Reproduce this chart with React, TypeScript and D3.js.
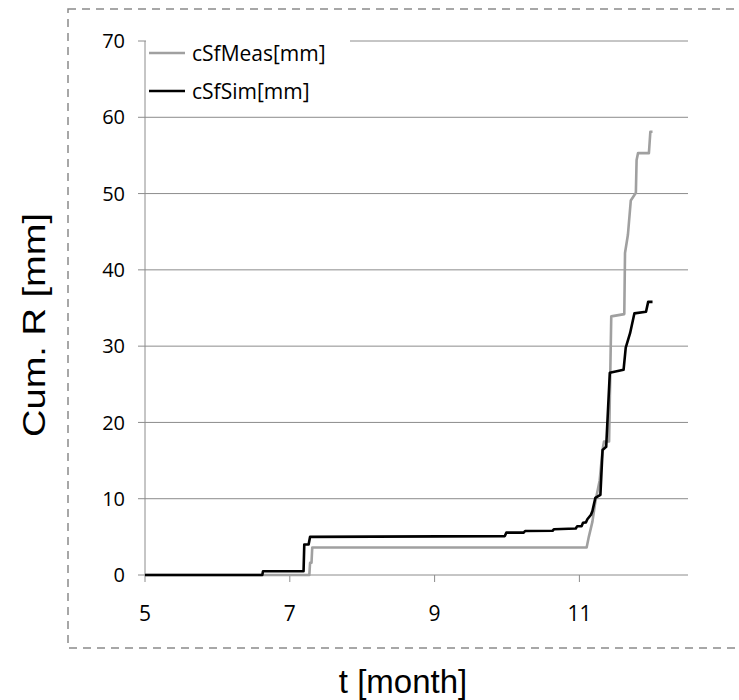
import React from "react";
import * as d3 from "d3";

const xTicks = [5, 7, 9, 11];
const yTicks = [0, 10, 20, 30, 40, 50, 60, 70];

const measX = [5, 7.27, 7.28, 7.3, 7.31, 11.1, 11.13, 11.18, 11.22, 11.28, 11.32, 11.34, 11.41, 11.44, 11.62, 11.63, 11.67, 11.71, 11.78, 11.79, 11.81, 11.96, 11.98, 12.01];
const measY = [0, 0, 1.6, 1.6, 3.6, 3.6, 5.0, 7.0, 9.6, 12.4, 16.4, 17.5, 17.5, 33.9, 34.2, 42.2, 44.6, 49.1, 50.1, 54.4, 55.3, 55.3, 58.1, 58.1];

const simX = [5, 6.62, 6.63, 7.19, 7.2, 7.26, 7.28, 9.97, 9.99, 10.23, 10.25, 10.63, 10.65, 10.95, 10.97, 11.03, 11.05, 11.09, 11.11, 11.16, 11.18, 11.22, 11.29, 11.32, 11.37, 11.42, 11.61, 11.64, 11.7, 11.76, 11.92, 11.95, 12.01];
const simY = [0, 0, 0.5, 0.5, 4.0, 4.0, 5.0, 5.1, 5.55, 5.55, 5.77, 5.8, 6.0, 6.1, 6.4, 6.4, 6.85, 6.9, 7.3, 7.9, 8.4, 10.1, 10.5, 16.4, 16.8, 26.5, 26.9, 29.8, 31.7, 34.3, 34.5, 35.8, 35.8];

const seriesNames = ["cSfMeas[mm]", "cSfSim[mm]"];
const seriesColors = ["#a0a0a0", "#000000"];

export default function App() {
  const W = 739, H = 700;
  const left = 145, right = 688, top = 41, bottom = 575;
  const x = d3.scaleLinear().domain([5, 12.5]).range([left, right]);
  const y = d3.scaleLinear().domain([0, 70]).range([bottom, top]);
  const line = d3.line<[number, number]>().x(d => x(d[0])).y(d => y(d[1]));
  const meas = measX.map((v, i) => [v, measY[i]] as [number, number]);
  const sim = simX.map((v, i) => [v, simY[i]] as [number, number]);
  const gridColor = "#8c8c8c";
  const tickFont = "'Open Sans', 'Noto Sans', sans-serif";
  const titleFont = "'Liberation Sans', Arial, sans-serif";

  return (
    <svg width={W} height={H} style={{ position: "absolute", left: 0, top: 0, background: "#fff" }}>
      <rect x={0} y={0} width={W} height={H} fill="#fff" />
      <rect x={68} y={9} width={700} height={639} fill="none" stroke="#8a8a8a" strokeWidth={1.5} strokeDasharray="8,6" />
      {yTicks.map(t => (
        <g key={"y" + t}>
          {t > 0 && <line x1={left} x2={right} y1={y(t)} y2={y(t)} stroke={gridColor} strokeWidth={1} />}
          <line x1={left - 7} x2={left} y1={y(t)} y2={y(t)} stroke={gridColor} strokeWidth={1} />
          <text x={125} y={y(t)} dy="0.36em" textAnchor="end" fontSize={20} fontFamily={tickFont} fill="#000">{t}</text>
        </g>
      ))}
      <line x1={left} x2={left} y1={top} y2={bottom} stroke={gridColor} strokeWidth={1} />
      <line x1={left} x2={right} y1={bottom} y2={bottom} stroke={gridColor} strokeWidth={1} />
      {xTicks.map(t => (
        <g key={"x" + t}>
          <line x1={x(t)} x2={x(t)} y1={bottom} y2={bottom + 7} stroke={gridColor} strokeWidth={1} />
          <text x={x(t)} y={621} textAnchor="middle" fontSize={21} fontFamily={tickFont} fill="#000">{t}</text>
        </g>
      ))}
      <path d={line(meas) || ""} fill="none" stroke={seriesColors[0]} strokeWidth={2.6} strokeLinejoin="round" />
      <path d={line(sim) || ""} fill="none" stroke={seriesColors[1]} strokeWidth={2.6} strokeLinejoin="round" />
      <rect x={left + 1} y={34} width={204} height={78} fill="#fff" />
      {seriesNames.map((n, i) => (
        <g key={n}>
          <line x1={149} x2={185} y1={53 + i * 38} y2={53 + i * 38} stroke={seriesColors[i]} strokeWidth={2.6} />
          <text x={192} y={53 + i * 38} dy="0.36em" fontSize={21} fontFamily={tickFont} fill="#000">{n}</text>
        </g>
      ))}
      <text x={403} y={693} textAnchor="middle" fontSize={33} fontFamily={titleFont} fill="#000">t [month]</text>
      <text transform="translate(45,325) rotate(-90)" textAnchor="middle" fontSize={32} textLength={224} lengthAdjust="spacingAndGlyphs" fontFamily={titleFont} fill="#000">Cum. R [mm]</text>
    </svg>
  );
}
